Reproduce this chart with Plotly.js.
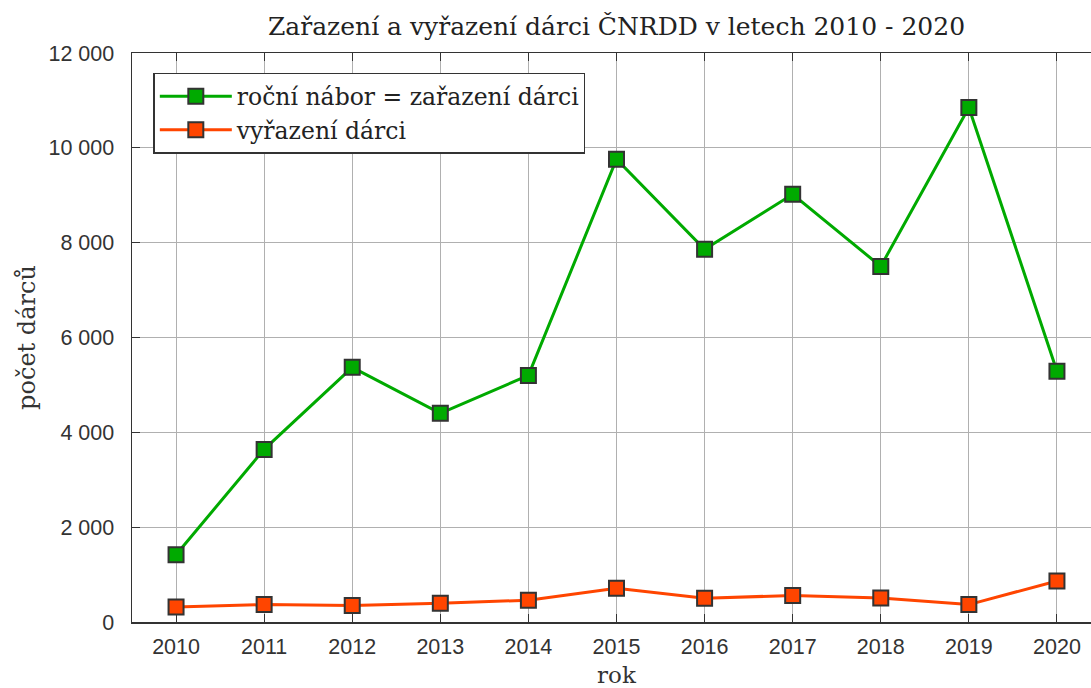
<!DOCTYPE html>
<html><head><meta charset="utf-8">
<script src="https://cdn.plot.ly/plotly-3.0.1.min.js"></script>
<style>html,body{margin:0;padding:0;overflow:hidden;background:#fff}#chart{width:1111px;height:688px}</style>
</head><body><div id="chart"></div>
<script>
const years = [2010,2011,2012,2013,2014,2015,2016,2017,2018,2019,2020];
const zarazeni = [1420,3640,5370,4400,5200,9760,7860,9020,7500,10850,5290];
const vyrazeni = [316,367,350,395,460,710,500,560,506,367,865];
const seriesNames = ['roční nábor = zařazení dárci','vyřazení dárci'];
const serif = 'DejaVu Serif, serif';
const sans = 'Liberation Sans, Arial, sans-serif';
const mk = c => ({symbol:'square', size:15, color:c, line:{color:'#333', width:2}});
const traces = [
  {x:years, y:zarazeni, name:seriesNames[0], mode:'lines+markers', line:{color:'#00aa00', width:3}, marker:mk('#00aa00')},
  {x:years, y:vyrazeni, name:seriesNames[1], mode:'lines+markers', line:{color:'#ff4500', width:3}, marker:mk('#ff4500')}
];
const layout = {
  width:1111, height:688,
  margin:{l:131.7, r:10, t:53, b:66.3},
  paper_bgcolor:'#fff', plot_bgcolor:'#fff',
  separators:'. ',
  title:{text:'Zařazení a vyřazení dárci ČNRDD v letech 2010 - 2020', font:{family:serif, size:25, color:'#222'}, xref:'paper', x:0.5, xanchor:'center', yref:'container', y:0.962, yanchor:'middle'},
  xaxis:{range:[2009.5,2020.5], tickvals:years, ticktext:years.map(String), showgrid:true, gridcolor:'#b0b0b0', gridwidth:1,
    showline:true, linecolor:'#333', linewidth:1.5, mirror:'ticks', ticks:'inside', ticklen:8, tickcolor:'#333',
    tickfont:{family:sans, size:21.5, color:'#333'}, zeroline:false, ticklabelstandoff:5,
    title:{text:'rok', font:{family:serif, size:23, color:'#333'}, standoff:10}},
  yaxis:{range:[0,12000], dtick:2000, tickformat:',d', separatethousands:true, ticksuffix:' ', showgrid:true, gridcolor:'#b0b0b0', gridwidth:1,
    showline:true, linecolor:'#333', linewidth:1.5, mirror:'ticks', ticks:'inside', ticklen:8, tickcolor:'#333',
    tickfont:{family:sans, size:21.5, color:'#333'}, zeroline:false, ticklabelstandoff:6,
    title:{text:'počet dárců', font:{family:serif, size:24, color:'#333'}, standoff:6}},
  showlegend:true,
  legend:{x:0.022, y:0.965, xanchor:'left', yanchor:'top', bgcolor:'#fff', bordercolor:'#333', borderwidth:1.5,
    font:{family:serif, size:23.5, color:'#222'}, itemwidth:72, tracegroupgap:0}
};
Plotly.newPlot('chart', traces, layout, {displayModeBar:false, staticPlot:true});
</script></body></html>
